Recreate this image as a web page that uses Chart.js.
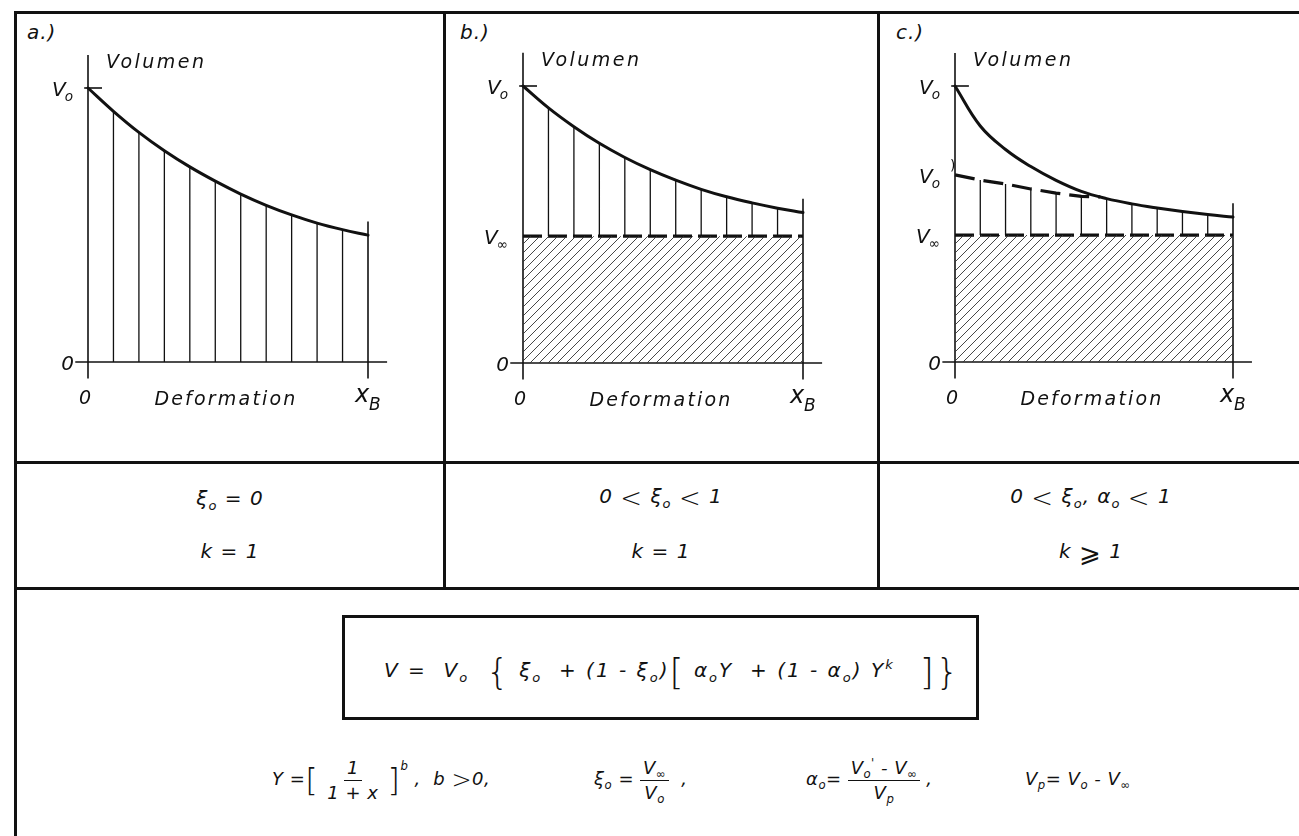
<!DOCTYPE html>
<html>
<head>
<meta charset="utf-8">
<script src="https://cdn.jsdelivr.net/npm/chart.js@4.4.1/dist/chart.umd.min.js"></script>
<style>
  body { margin: 0; background: #fff; width: 1299px; height: 836px; overflow: hidden; position: relative;
         font-family: "DejaVu Sans", sans-serif; font-style: italic; color: #111; }
  .ln { position: absolute; background: #111; }
  canvas { position: absolute; }
  .t { position: absolute; white-space: nowrap; font-size: 20px; letter-spacing: 1px; line-height: 1; }
  .c { transform: translateX(-50%); }
  sub { font-size: 0.65em; vertical-align: -0.35em; line-height: 0; }
  sup { font-size: 0.65em; vertical-align: 0.6em; line-height: 0; }
  .big { font-style: normal; font-weight: 200; vertical-align: middle; line-height: 0; }
  .eq { position: absolute; white-space: nowrap; font-size: 18px; letter-spacing: 0.5px; line-height: 54px; }
  .frac { display: inline-flex; flex-direction: column; align-items: center; margin: 0 6px; vertical-align: middle;
          line-height: 1.3; }
  .frac > span { padding: 0 3px; }
  .frac > span:first-child { border-bottom: 1.5px solid #111; }
  .box { position: absolute; border: 3px solid #111; box-sizing: border-box; }
</style>
</head>
<body>
<!-- frame and table rules -->
<div class="ln" style="left:14px;top:11px;width:1285px;height:3px"></div>
<div class="ln" style="left:14px;top:11px;width:3px;height:825px"></div>
<div class="ln" style="left:443px;top:11px;width:3px;height:578px"></div>
<div class="ln" style="left:877px;top:11px;width:3px;height:578px"></div>
<div class="ln" style="left:14px;top:461px;width:1285px;height:3px"></div>
<div class="ln" style="left:14px;top:587px;width:1285px;height:3px"></div>

<div class="t" style="left:27px;top:22px">a.)</div>
<div class="t" style="left:460px;top:22px">b.)</div>
<div class="t" style="left:896px;top:22px">c.)</div>

<canvas id="chartA" width="420" height="440"></canvas>
<canvas id="chartB" width="420" height="440"></canvas>
<canvas id="chartC" width="420" height="440"></canvas>

<!-- parameter ranges per case -->
<div class="t c" style="left:230px;top:488px">ξ<sub>o</sub> = 0</div>
<div class="t c" style="left:230px;top:541px">k = 1</div>
<div class="t c" style="left:661px;top:486px">0 <span class="big" style="font-size:26px">&lt;</span> ξ<sub>o</sub> <span class="big" style="font-size:26px">&lt;</span> 1</div>
<div class="t c" style="left:661px;top:541px">k = 1</div>
<div class="t c" style="left:1091px;top:486px">0 <span class="big" style="font-size:26px">&lt;</span> ξ<sub>o</sub>, α<sub>o</sub> <span class="big" style="font-size:26px">&lt;</span> 1</div>
<div class="t c" style="left:1091px;top:541px">k <span class="big" style="font-size:26px">⩾</span> 1</div>

<!-- model equation -->
<div class="box" style="left:342px;top:615px;width:637px;height:105px"></div>
<div class="eq" style="left:384px;top:643px;font-size:20px;letter-spacing:2px">
  V&nbsp;=&nbsp;&nbsp;V<sub>o</sub>&nbsp;&nbsp;<span class="big" style="font-size:36px">{</span>&nbsp;ξ<sub>o</sub>&nbsp;&nbsp;+&nbsp;(1&nbsp;-&nbsp;ξ<sub>o</sub>)<span class="big" style="font-size:36px">[</span>&nbsp;α<sub>o</sub>Y&nbsp;&nbsp;+&nbsp;(1&nbsp;-&nbsp;α<sub>o</sub>)&nbsp;Y<sup>k</sup>&nbsp;&nbsp;&nbsp;<span class="big" style="font-size:36px">]</span><span class="big" style="font-size:36px">}</span>
</div>

<!-- definitions -->
<div class="eq" style="left:272px;top:752px">
  Y&nbsp;=<span class="big" style="font-size:32px">[</span><span class="frac"><span>1</span><span>1 + x</span></span><span class="big" style="font-size:32px">]</span><sup style="vertical-align:1.3em">b</sup>&nbsp;,&nbsp;&nbsp;b <span class="big" style="font-size:24px">&gt;</span>0,
</div>
<div class="eq" style="left:594px;top:752px">
  ξ<sub>o</sub>&nbsp;=<span class="frac"><span>V<sub>∞</sub></span><span>V<sub>o</sub></span></span>&nbsp;,
</div>
<div class="eq" style="left:806px;top:752px">
  α<sub>o</sub>=<span class="frac"><span>V<sub>o</sub><sup>'</sup> - V<sub>∞</sub></span><span>V<sub>p</sub></span></span>,
</div>
<div class="eq" style="left:1025px;top:752px">
  V<sub>p</sub>= V<sub>o</sub> - V<sub>∞</sub>
</div>

<script>
// deformation steps 0 .. x_B
const steps = [0, 1, 2, 3, 4, 5, 6, 7, 8, 9, 10, 11];

// relative volume V/V0 along the steps
const curveA = [1.000, 0.915, 0.838, 0.771, 0.712, 0.660, 0.613, 0.572, 0.537, 0.507, 0.483, 0.463];
const curveB = [1.000, 0.921, 0.853, 0.793, 0.742, 0.698, 0.660, 0.627, 0.600, 0.578, 0.559, 0.543];
const curveC = [1.000, 0.855, 0.770, 0.708, 0.658, 0.618, 0.592, 0.573, 0.558, 0.545, 0.534, 0.525];

// residual volume V_inf
const vInfB = 0.458;
const vInfC = 0.460;

// V0' line in case c, until it meets the curve
const primeStepsC = [0, 1, 2, 3, 4, 5, 5.75];
const primeC = [0.678, 0.659, 0.645, 0.627, 0.612, 0.600, 0.598];

// y tick labels ("_" marks a subscript, trailing ' a prime)
const yTicksA = [1, 0];
const yTextA = ['V_o', '0'];
const yTicksB = [1, vInfB, 0];
const yTextB = ['V_o', 'V_∞', '0'];
const yTicksC = [1, primeC[0], vInfC, 0];
const yTextC = ['V_o', "V_o'", 'V_∞', '0'];

const INK = '#111';
const FONT = '"DejaVu Sans", sans-serif';

function hatchPattern() {
  const c = document.createElement('canvas');
  c.width = c.height = 9;
  const g = c.getContext('2d');
  g.strokeStyle = '#333';
  g.lineWidth = 0.9;
  g.beginPath();
  g.moveTo(-1, 10); g.lineTo(10, -1);
  g.moveTo(-2, 2); g.lineTo(2, -2);
  g.moveTo(7, 11); g.lineTo(11, 7);
  g.stroke();
  return g.createPattern(c, 'repeat');
}

function subText(ctx, label, x, y, align, size) {
  let prime = false;
  if (label.endsWith("'")) { prime = true; label = label.slice(0, -1); }
  const [main, sub] = label.split('_');
  ctx.font = `oblique ${size}px ${FONT}`;
  const w1 = ctx.measureText(main).width;
  ctx.font = `oblique ${size * 0.68}px ${FONT}`;
  const w2 = sub ? ctx.measureText(sub).width : 0;
  const left = align === 'right' ? x - w1 - w2 : align === 'center' ? x - (w1 + w2) / 2 : x;
  ctx.textAlign = 'left';
  ctx.font = `oblique ${size}px ${FONT}`;
  ctx.fillText(main, left, y);
  if (sub) {
    ctx.font = `oblique ${size * 0.68}px ${FONT}`;
    ctx.fillText(sub, left + w1 - 1, y + size * 0.32);
  }
  if (prime) {
    ctx.font = `${size * 0.7}px ${FONT}`;
    ctx.fillText(')', left + w1 + w2 + 9, y - size * 0.6);
  }
}

// axis names, tick labels and x_B drawn against the scales
const axisText = {
  id: 'axisText',
  afterDatasetsDraw(chart, args, opts) {
    const { ctx, scales: { x, y } } = chart;
    const x0 = x.getPixelForValue(0);
    const xb = x.getPixelForValue(steps[steps.length - 1]);
    const y0 = y.getPixelForValue(0);
    ctx.save();
    ctx.fillStyle = INK;
    ctx.textBaseline = 'middle';
    ctx.letterSpacing = '2.5px';
    ctx.font = `oblique 19px ${FONT}`;
    ctx.textAlign = 'left';
    ctx.fillText('Volumen', x0 + 18, y.getPixelForValue(1.09));
    ctx.letterSpacing = '2.2px';
    ctx.font = `oblique 19px ${FONT}`;
    ctx.textAlign = 'center';
    ctx.fillText('Deformation', (x0 + xb) / 2 - 2, y0 + 38);
    ctx.letterSpacing = '0px';
    subText(ctx, '0', x0 - 3, y0 + 37, 'center', 19);
    opts.ticks.forEach((v, i) => {
      subText(ctx, opts.text[i], x0 - 14, y.getPixelForValue(v) + 3, 'right', 20);
    });
    ctx.font = `oblique 24px ${FONT}`;
    ctx.textAlign = 'left';
    ctx.fillText('x', xb - 13, y0 + 34);
    ctx.font = `oblique 17px ${FONT}`;
    ctx.fillText('B', xb + 1, y0 + 44);
    ctx.restore();
  }
};

function seg(x1, y1, x2, y2, w) {
  return { data: [{ x: x1, y: y1 }, { x: x2, y: y2 }], borderColor: INK, borderWidth: w || 1.6 };
}

function drops(lows, tops, from, to) {
  const pts = [];
  for (let i = from; i <= to; i++) {
    pts.push({ x: steps[i], y: lows[i] }, { x: steps[i], y: tops[i] }, { x: steps[i], y: null });
  }
  return { data: pts, borderColor: INK, borderWidth: 1.3, spanGaps: false, tension: 0 };
}

function panel(id, geo, datasets, ticks, text) {
  const cv = document.getElementById(id);
  const W = cv.width, H = cv.height, off = 80;
  const xMin = -0.55, xMax = 11.8, yMin = -0.06, yMax = 1.12;
  const ux = (geo.xb - geo.axis) / 11;
  const uy = geo.zero - geo.v0;
  cv.style.left = (geo.axis - off) + 'px';
  cv.style.top = '0px';
  const pad = {
    left: off + xMin * ux,
    right: W - (off + xMax * ux),
    top: geo.v0 - (yMax - 1) * uy,
    bottom: H - (geo.zero - yMin * uy)
  };
  const last = steps.length - 1;
  const curve = geo.curve;
  const axes = [
    seg(0, yMin, 0, yMax),
    seg(xMin + 0.05, 0, xMax - 0.05, 0),
    seg(steps[last], yMin, steps[last], curve[last] + 0.05),
    seg(-0.15, 1, 0.55, 1)
  ];
  datasets.forEach(d => { d.pointRadius = 0; d.clip = false; d.fill = d.fill || false; });
  axes.forEach(d => { d.pointRadius = 0; d.clip = false; d.fill = false; d.tension = 0; });
  new Chart(cv, {
    type: 'line',
    data: { datasets: datasets.concat(axes) },
    options: {
      responsive: false,
      animation: false,
      events: [],
      layout: { padding: pad },
      scales: {
        x: { type: 'linear', min: xMin, max: xMax, display: false },
        y: { type: 'linear', min: yMin, max: yMax, display: false }
      },
      plugins: { legend: { display: false }, tooltip: { enabled: false }, axisText: { ticks, text } }
    },
    plugins: [axisText]
  });
}

function curveSet(vals) {
  return {
    data: steps.map((s, i) => ({ x: s, y: vals[i] })),
    borderColor: INK, borderWidth: 3, tension: 0.4, borderCapStyle: 'round'
  };
}

function levelSet(v) {
  return {
    data: [{ x: 0, y: v }, { x: steps[steps.length - 1], y: v }],
    borderColor: INK, borderWidth: 3.2, borderDash: [19, 6]
  };
}

function hatchSet(v) {
  return {
    data: [{ x: 0, y: v }, { x: steps[steps.length - 1], y: v }],
    borderWidth: 0, fill: 'origin', backgroundColor: hatchPattern()
  };
}

const zeros = steps.map(() => 0);

// a) pure hyperbolic decay to zero
panel('chartA', { axis: 88, zero: 362, v0: 88, xb: 368, curve: curveA },
  [drops(zeros, curveA, 1, steps.length - 2), curveSet(curveA)], yTicksA, yTextA);

// b) decay towards a residual volume
const lowB = steps.map(() => vInfB);
panel('chartB', { axis: 523, zero: 363, v0: 86, xb: 803, curve: curveB },
  [hatchSet(vInfB), drops(lowB, curveB, 1, steps.length - 2), levelSet(vInfB), curveSet(curveB)],
  yTicksB, yTextB);

// c) two-stage decay, V0' line then curve
const lowC = steps.map(() => vInfC);
const topC = steps.map((s, i) => (i < primeC.length - 1 ? primeC[i] : curveC[i]));
panel('chartC', { axis: 955, zero: 362, v0: 86, xb: 1233, curve: curveC },
  [hatchSet(vInfC), drops(lowC, topC, 1, steps.length - 2), levelSet(vInfC),
   { data: primeStepsC.map((s, i) => ({ x: s, y: primeC[i] })), borderColor: INK, borderWidth: 3.2,
     borderDash: [20, 9], tension: 0 },
   curveSet(curveC)],
  yTicksC, yTextC);
</script>
</body>
</html>
